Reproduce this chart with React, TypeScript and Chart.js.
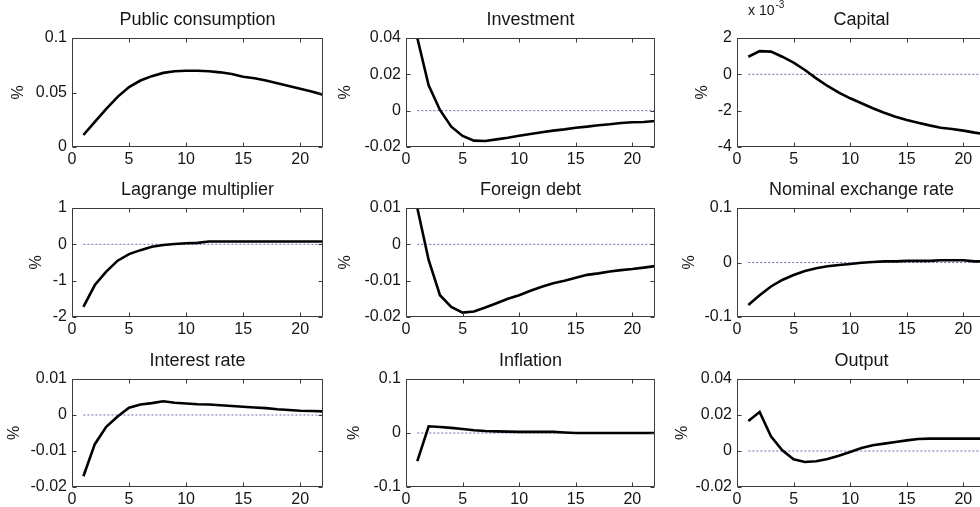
import React, { useEffect, useRef } from 'react';
import { Chart, registerables } from 'chart.js';

Chart.register(...registerables);

// ---------------- data ----------------
const periods = [1, 2, 3, 4, 5, 6, 7, 8, 9, 10, 11, 12, 13, 14, 15, 16, 17, 18, 19, 20, 21, 22];
const xTicks = [0, 5, 10, 15, 20];
const xTickLabels = ['0', '5', '10', '15', '20'];

const publicConsumption = [0.011, 0.023, 0.035, 0.046, 0.055, 0.061, 0.065, 0.068, 0.0695, 0.07, 0.07, 0.0695, 0.0685, 0.067, 0.0645, 0.063, 0.061, 0.0585, 0.056, 0.0535, 0.051, 0.048];
const investment = [0.04, 0.014, 0.0004, -0.0088, -0.0139, -0.0165, -0.0167, -0.0158, -0.0149, -0.0138, -0.0128, -0.0119, -0.011, -0.0103, -0.0094, -0.0088, -0.008, -0.0075, -0.0068, -0.0064, -0.0062, -0.0057];
// Capital, in units of 10^-3
const capital = [0.97, 1.28, 1.25, 0.97, 0.64, 0.24, -0.22, -0.64, -1.01, -1.32, -1.59, -1.87, -2.11, -2.33, -2.51, -2.66, -2.81, -2.94, -3.01, -3.1, -3.21, -3.3];
const lagrangeMultiplier = [-1.72, -1.12, -0.75, -0.45, -0.27, -0.16, -0.065, -0.02, 0.01, 0.03, 0.04, 0.08, 0.08, 0.08, 0.08, 0.08, 0.08, 0.08, 0.08, 0.08, 0.08, 0.08];
const foreignDebt = [0.01, -0.0043, -0.014, -0.0172, -0.0188, -0.0185, -0.0174, -0.0162, -0.015, -0.014, -0.0128, -0.0117, -0.0107, -0.01, -0.0092, -0.0084, -0.008, -0.0075, -0.0071, -0.0068, -0.0064, -0.006];
const nominalExchangeRate = [-0.078, -0.06, -0.044, -0.032, -0.023, -0.0156, -0.0106, -0.007, -0.0046, -0.0028, -0.0005, 0.001, 0.002, 0.002, 0.003, 0.003, 0.003, 0.004, 0.004, 0.004, 0.002, 0.002];
const interestRate = [-0.017, -0.0081, -0.0033, -0.0004, 0.002, 0.0029, 0.0033, 0.0038, 0.0034, 0.0032, 0.003, 0.0029, 0.0027, 0.0025, 0.0023, 0.0021, 0.0019, 0.0016, 0.0014, 0.0012, 0.0011, 0.001];
const inflation = [-0.052, 0.0124, 0.011, 0.0095, 0.0074, 0.005, 0.0037, 0.003, 0.0025, 0.002, 0.002, 0.002, 0.002, 0.001, 0, 0, 0, 0, 0, 0, 0, 0];
const output = [0.0167, 0.0217, 0.0082, 0.0004, -0.0046, -0.0061, -0.0057, -0.0044, -0.0026, -0.0006, 0.0017, 0.0032, 0.0041, 0.005, 0.0059, 0.0067, 0.0069, 0.0069, 0.0069, 0.0069, 0.0069, 0.0069];

const pcTicks = [0, 0.05, 0.1];
const pcTickLabels = ['0', '0.05', '0.1'];
const invTicks = [-0.02, 0, 0.02, 0.04];
const invTickLabels = ['-0.02', '0', '0.02', '0.04'];
const capTicks = [-4, -2, 0, 2];
const capTickLabels = ['-4', '-2', '0', '2'];
const lagTicks = [-2, -1, 0, 1];
const lagTickLabels = ['-2', '-1', '0', '1'];
const debtTicks = [-0.02, -0.01, 0, 0.01];
const debtTickLabels = ['-0.02', '-0.01', '0', '0.01'];
const fxTicks = [-0.1, 0, 0.1];
const fxTickLabels = ['-0.1', '0', '0.1'];
const rateTicks = [-0.02, -0.01, 0, 0.01];
const rateTickLabels = ['-0.02', '-0.01', '0', '0.01'];
const inflTicks = [-0.1, 0, 0.1];
const inflTickLabels = ['-0.1', '0', '0.1'];
const outTicks = [-0.02, 0, 0.02, 0.04];
const outTickLabels = ['-0.02', '0', '0.02', '0.04'];

const yUnit = '%';

const panels = [
  { title: 'Public consumption', values: publicConsumption, yTicks: pcTicks, yLabels: pcTickLabels, exponent: '' },
  { title: 'Investment', values: investment, yTicks: invTicks, yLabels: invTickLabels, exponent: '' },
  { title: 'Capital', values: capital, yTicks: capTicks, yLabels: capTickLabels, exponent: '-3' },
  { title: 'Lagrange multiplier', values: lagrangeMultiplier, yTicks: lagTicks, yLabels: lagTickLabels, exponent: '' },
  { title: 'Foreign debt', values: foreignDebt, yTicks: debtTicks, yLabels: debtTickLabels, exponent: '' },
  { title: 'Nominal exchange rate', values: nominalExchangeRate, yTicks: fxTicks, yLabels: fxTickLabels, exponent: '' },
  { title: 'Interest rate', values: interestRate, yTicks: rateTicks, yLabels: rateTickLabels, exponent: '' },
  { title: 'Inflation', values: inflation, yTicks: inflTicks, yLabels: inflTickLabels, exponent: '' },
  { title: 'Output', values: output, yTicks: outTicks, yLabels: outTickLabels, exponent: '' },
];

// ---------------- layout / style ----------------
const FONT = '"Liberation Sans", Arial, Helvetica, sans-serif';
const colLeft = [72, 406, 737];
const colWidth = [251, 249, 249];
const rowTop = [38, 208, 379];
const rowHeight = [109, 109, 108];
const percentX = [19, 346, 703, 37, 346, 690, 15, 355, 683];
const AXIS_W = 70;
const TITLE_H = 38;
const XAXIS_H = 24;
const RIGHT_PAD = 10;
const TICK_FONT = 16;
const TEXT_COLOR = '#161616';
const BOX_COLOR = '#3a3a3a';

const matlabAxes = {
  id: 'matlabAxes',
  afterDatasetsDraw(chart: any, _args: any, opts: any) {
    const { ctx, chartArea: a } = chart;
    const xs = chart.scales.x;
    const ys = chart.scales.y;
    const L = Math.round(a.left) + 0.5;
    const R = Math.round(a.right) - 0.5;
    const T = Math.round(a.top) + 0.5;
    const B = Math.round(a.bottom) - 0.5;
    ctx.save();
    ctx.strokeStyle = BOX_COLOR;
    ctx.lineWidth = 1;
    ctx.beginPath();
    ctx.rect(L, T, R - L, B - T);
    xs.ticks.forEach((t: any) => {
      const px = Math.round(xs.getPixelForValue(t.value)) + 0.5;
      ctx.moveTo(px, B);
      ctx.lineTo(px, B - 4);
      ctx.moveTo(px, T);
      ctx.lineTo(px, T + 4);
    });
    ys.ticks.forEach((t: any) => {
      const py = Math.round(ys.getPixelForValue(t.value)) + 0.5;
      ctx.moveTo(L, py);
      ctx.lineTo(L + 4, py);
      ctx.moveTo(R, py);
      ctx.lineTo(R - 4, py);
    });
    ctx.stroke();
    if (opts && opts.exponent) {
      ctx.fillStyle = TEXT_COLOR;
      ctx.textAlign = 'left';
      ctx.textBaseline = 'middle';
      ctx.font = `14px ${FONT}`;
      const base = 'x 10';
      const bx = a.left + 11;
      ctx.fillText(base, bx, a.top - 27);
      const w = ctx.measureText(base).width;
      ctx.font = `10px ${FONT}`;
      ctx.fillText(opts.exponent, bx + w + 1, a.top - 33);
    }
    ctx.restore();
  },
};

function Panel({ idx }: { idx: number }) {
  const ref = useRef<HTMLCanvasElement | null>(null);
  const p = panels[idx];
  const row = Math.floor(idx / 3);
  const col = idx % 3;
  const left = colLeft[col] - AXIS_W;
  const top = rowTop[row] - TITLE_H;
  const width = AXIS_W + colWidth[col] + RIGHT_PAD;
  const height = TITLE_H + rowHeight[row] + XAXIS_H;

  useEffect(() => {
    if (!ref.current) return;
    const titlePad = percentX[idx] - left - (TICK_FONT * 1.2) / 2;
    const chart = new Chart(ref.current, {
      type: 'line',
      data: {
        datasets: [
          {
            data: periods.map((x, i) => ({ x, y: p.values[i] })),
            borderColor: '#000',
            borderWidth: 2.6,
            pointRadius: 0,
            tension: 0,
            fill: false,
          },
          {
            data: periods.map((x) => ({ x, y: 0 })),
            borderColor: '#6a6aae',
            borderWidth: 1,
            borderDash: [2, 2],
            pointRadius: 0,
            tension: 0,
            fill: false,
          },
        ],
      },
      options: {
        responsive: false,
        animation: false,
        events: [],
        layout: { padding: { left: 0, right: RIGHT_PAD, top: 0, bottom: 0 } },
        plugins: {
          legend: { display: false },
          tooltip: { enabled: false },
          title: {
            display: true,
            text: p.title,
            fullSize: false,
            color: TEXT_COLOR,
            font: { family: FONT, size: 18, weight: 'normal' },
            padding: { top: 9, bottom: 7.4 },
          },
          matlabAxes: { exponent: p.exponent },
        } as any,
        scales: {
          x: {
            type: 'linear',
            min: 0,
            max: 22,
            grid: { display: false, drawTicks: false, tickLength: 0 },
            border: { display: false },
            afterBuildTicks: (s: any) => {
              s.ticks = xTicks.map((v) => ({ value: v }));
            },
            afterFit: (s: any) => {
              s.height = XAXIS_H;
            },
            ticks: {
              autoSkip: false,
              maxRotation: 0,
              minRotation: 0,
              padding: 3,
              color: TEXT_COLOR,
              font: { family: FONT, size: TICK_FONT },
              callback: (_v: any, i: number) => xTickLabels[i],
            },
          },
          y: {
            type: 'linear',
            min: p.yTicks[0],
            max: p.yTicks[p.yTicks.length - 1],
            grid: { display: false, drawTicks: false, tickLength: 0 },
            border: { display: false },
            afterBuildTicks: (s: any) => {
              s.ticks = p.yTicks.map((v) => ({ value: v }));
            },
            afterFit: (s: any) => {
              s.width = AXIS_W;
            },
            ticks: {
              autoSkip: false,
              padding: 5,
              color: TEXT_COLOR,
              font: { family: FONT, size: TICK_FONT },
              callback: (_v: any, i: number) => p.yLabels[i],
            },
            title: {
              display: true,
              text: yUnit,
              color: TEXT_COLOR,
              font: { family: FONT, size: TICK_FONT },
              padding: { top: titlePad, bottom: 0 },
            },
          },
        },
      } as any,
      plugins: [matlabAxes as any],
    });
    return () => chart.destroy();
  }, [idx]);

  return (
    <canvas
      ref={ref}
      width={width}
      height={height}
      style={{ position: 'absolute', left, top, width, height }}
    />
  );
}

export default function App() {
  return (
    <div
      style={{
        position: 'fixed',
        left: 0,
        top: 0,
        width: 980,
        height: 507,
        overflow: 'hidden',
        background: '#fff',
      }}
    >
      {panels.map((_, i) => (
        <Panel key={i} idx={i} />
      ))}
    </div>
  );
}
